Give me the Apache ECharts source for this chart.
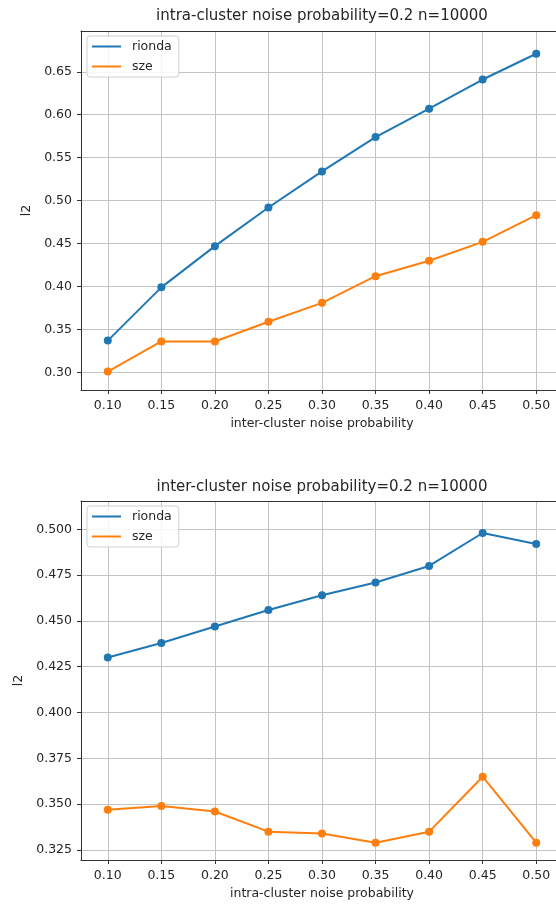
<!DOCTYPE html>
<html>
<head>
<meta charset="utf-8">
<script src="https://cdn.jsdelivr.net/npm/echarts@6/dist/echarts.min.js"></script>
<style>
  html, body { margin: 0; padding: 0; background: #fff; }
  #chart { width: 556px; height: 907px; }
</style>
</head>
<body>
<div id="chart"></div>
<script>
// Noise probabilities swept along the x axis (both panels)
const probTicks = [0.10, 0.15, 0.20, 0.25, 0.30, 0.35, 0.40, 0.45, 0.50];

// Upper panel: intra-cluster noise fixed at 0.2, inter-cluster noise varied
const riondaInter = [0.337, 0.399, 0.447, 0.492, 0.534, 0.574, 0.607, 0.641, 0.671];
const szeInter    = [0.301, 0.336, 0.336, 0.359, 0.381, 0.412, 0.430, 0.452, 0.483];
const yTicksTop   = [0.30, 0.35, 0.40, 0.45, 0.50, 0.55, 0.60, 0.65];

// Lower panel: inter-cluster noise fixed at 0.2, intra-cluster noise varied
const riondaIntra = [0.430, 0.438, 0.447, 0.456, 0.464, 0.471, 0.480, 0.498, 0.492];
const szeIntra    = [0.347, 0.349, 0.346, 0.335, 0.334, 0.329, 0.335, 0.365, 0.329];
const yTicksBottom = [0.325, 0.350, 0.375, 0.400, 0.425, 0.450, 0.475, 0.500];

const seriesNames = ['rionda', 'sze'];
const titles = ['intra-cluster noise probability=0.2 n=10000', 'inter-cluster noise probability=0.2 n=10000'];
const xNames = ['inter-cluster noise probability', 'intra-cluster noise probability'];

const BLUE = '#1f77b4', ORANGE = '#ff7f0e';
const FONT = 'DejaVu Sans';
const TXT = '#262626';
const GRIDLINE = '#c4c4c4';
const SPINE = '#333333';
const X_MIN = 0.075, X_MAX = 0.525;

const pairs = (vals) => probTicks.map((x, i) => [x, vals[i]]);

// The plotting boxes run slightly past the right edge of the page
const grids = [
  { left: 81, top: 31, width: 482, height: 359 },
  { left: 81, top: 501, width: 482, height: 359 }
];

function xAxisFor(idx) {
  return {
    type: 'value', gridIndex: idx, min: X_MIN, max: X_MAX, position: 'bottom',
    name: xNames[idx], nameLocation: 'middle', nameGap: 27,
    nameTextStyle: { fontFamily: FONT, fontSize: 12.5, color: TXT },
    axisLine: { show: true, onZero: false, lineStyle: { color: SPINE, width: 1 } },
    axisTick: { show: true, length: 4, customValues: probTicks, lineStyle: { color: SPINE, width: 1 } },
    axisLabel: { customValues: probTicks, margin: 9, fontFamily: FONT, fontSize: 12.5, color: TXT,
                 formatter: v => v.toFixed(2) },
    splitLine: { show: true, lineStyle: { color: GRIDLINE, width: 1 } }
  };
}

// Plain top edge of each plotting box
function topEdgeFor(idx) {
  return {
    type: 'value', gridIndex: idx, min: X_MIN, max: X_MAX, position: 'top',
    axisLine: { show: true, onZero: false, lineStyle: { color: SPINE, width: 1 } },
    axisTick: { show: false }, axisLabel: { show: false }, splitLine: { show: false }
  };
}

function yAxisFor(idx, min, max, ticks, digits, gap) {
  return {
    type: 'value', gridIndex: idx, min: min, max: max, position: 'left',
    name: 'l2', nameLocation: 'middle', nameGap: gap,
    nameTextStyle: { fontFamily: FONT, fontSize: 12.5, color: TXT },
    axisLine: { show: true, onZero: false, lineStyle: { color: SPINE, width: 1 } },
    axisTick: { show: true, length: 4, customValues: ticks, lineStyle: { color: SPINE, width: 1 } },
    axisLabel: { customValues: ticks, margin: 9, fontFamily: FONT, fontSize: 12.5, color: TXT,
                 formatter: v => v.toFixed(digits) },
    splitLine: { show: true, lineStyle: { color: GRIDLINE, width: 1 } }
  };
}

function lineSeries(name, color, vals, idx) {
  return {
    name: name, type: 'line', xAxisIndex: idx, yAxisIndex: idx,
    data: pairs(vals),
    symbol: 'circle', symbolSize: 8, showSymbol: true,
    lineStyle: { color: color, width: 2 },
    itemStyle: { color: color },
    emphasis: { disabled: true },
    animation: false
  };
}

function legendFor(top) {
  return {
    show: true, orient: 'vertical', left: 87, top: top,
    data: seriesNames,
    icon: 'rect', itemWidth: 29, itemHeight: 2, itemGap: 7,
    padding: [4, 7, 4, 5],
    backgroundColor: 'rgba(255,255,255,0.85)',
    borderColor: '#d0d0d0', borderWidth: 1, borderRadius: 3,
    textStyle: { fontFamily: FONT, fontSize: 12.5, color: TXT, padding: [0, 0, 0, 6] },
    selectedMode: false
  };
}

const chart = echarts.init(document.getElementById('chart'), null, { renderer: 'canvas' });

chart.setOption({
  backgroundColor: '#ffffff',
  animation: false,
  grid: grids.map(g => Object.assign({
    show: false, containLabel: false, outerBoundsMode: 'none'
  }, g)),
  xAxis: [xAxisFor(0), xAxisFor(1), topEdgeFor(0), topEdgeFor(1)],
  yAxis: [
    yAxisFor(0, 0.2795, 0.6975, yTicksTop, 2, 37),
    yAxisFor(1, 0.31954, 0.51545, yTicksBottom, 3, 49)
  ],
  legend: [legendFor(36), legendFor(506)],
  graphic: [
    { type: 'text', x: 322, y: 16, style: { text: titles[0], fontFamily: FONT, fontSize: 15, fill: TXT, align: 'center', verticalAlign: 'middle' } },
    { type: 'text', x: 322, y: 487, style: { text: titles[1], fontFamily: FONT, fontSize: 15, fill: TXT, align: 'center', verticalAlign: 'middle' } }
  ],
  series: [
    lineSeries('rionda', BLUE, riondaInter, 0),
    lineSeries('sze', ORANGE, szeInter, 0),
    lineSeries('rionda', BLUE, riondaIntra, 1),
    lineSeries('sze', ORANGE, szeIntra, 1)
  ]
});
</script>
</body>
</html>
